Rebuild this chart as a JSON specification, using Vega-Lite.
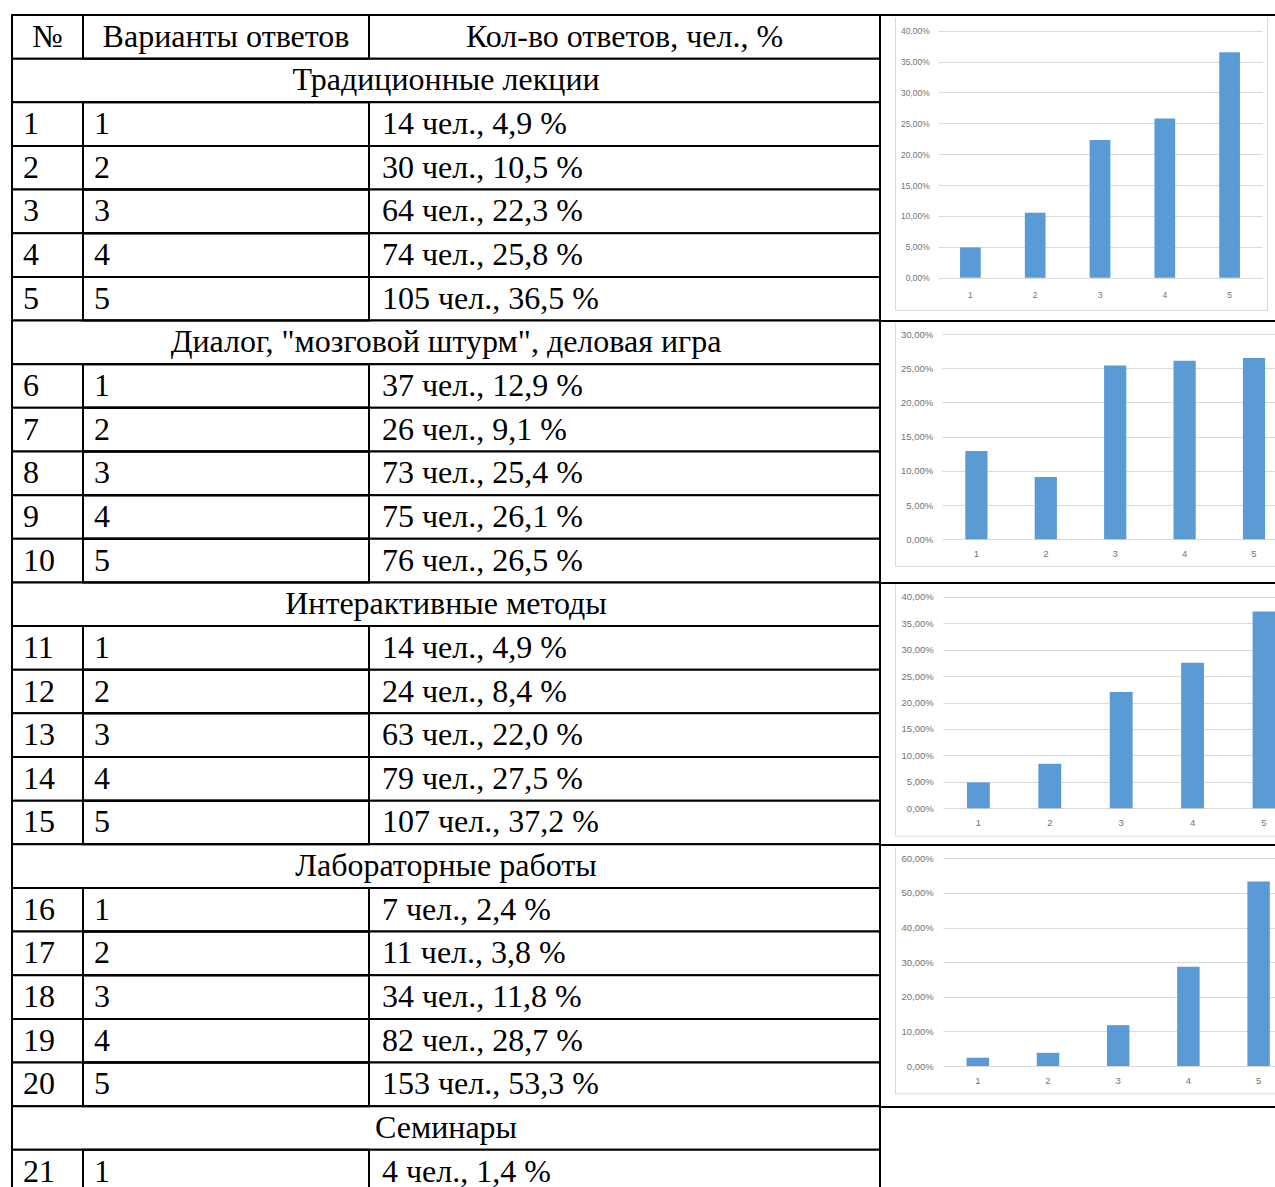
{
  "$schema": "https://vega.github.io/schema/vega-lite/v6.json",
  "background": "white",
  "padding": {"left": 10, "top": 13, "right": 0, "bottom": 0},
  "bounds": "flush",
  "spacing": 0,
  "datasets": {
    "header": [
      {"r": 0, "c": 0.5, "t": "№"},
      {"r": 0, "c": 1.5, "t": "Варианты ответов"},
      {"r": 0, "c": 2.5, "t": "Кол-во ответов, чел., %"}
    ],
    "table": [
      {"r": 0, "k": "h"},
      {"r": 1, "k": "g", "t": "Традиционные лекции"},
      {"r": 2, "k": "i", "no": "1", "opt": "1", "cnt": "14 чел., 4,9 %"},
      {"r": 3, "k": "i", "no": "2", "opt": "2", "cnt": "30 чел., 10,5 %"},
      {"r": 4, "k": "i", "no": "3", "opt": "3", "cnt": "64 чел., 22,3 %"},
      {"r": 5, "k": "i", "no": "4", "opt": "4", "cnt": "74 чел., 25,8 %"},
      {"r": 6, "k": "i", "no": "5", "opt": "5", "cnt": "105 чел., 36,5 %"},
      {"r": 7, "k": "g", "t": "Диалог, \"мозговой штурм\", деловая игра"},
      {"r": 8, "k": "i", "no": "6", "opt": "1", "cnt": "37 чел., 12,9 %"},
      {"r": 9, "k": "i", "no": "7", "opt": "2", "cnt": "26 чел., 9,1 %"},
      {"r": 10, "k": "i", "no": "8", "opt": "3", "cnt": "73 чел., 25,4 %"},
      {"r": 11, "k": "i", "no": "9", "opt": "4", "cnt": "75 чел., 26,1 %"},
      {"r": 12, "k": "i", "no": "10", "opt": "5", "cnt": "76 чел., 26,5 %"},
      {"r": 13, "k": "g", "t": "Интерактивные методы"},
      {"r": 14, "k": "i", "no": "11", "opt": "1", "cnt": "14 чел., 4,9 %"},
      {"r": 15, "k": "i", "no": "12", "opt": "2", "cnt": "24 чел., 8,4 %"},
      {"r": 16, "k": "i", "no": "13", "opt": "3", "cnt": "63 чел., 22,0 %"},
      {"r": 17, "k": "i", "no": "14", "opt": "4", "cnt": "79 чел., 27,5 %"},
      {"r": 18, "k": "i", "no": "15", "opt": "5", "cnt": "107 чел., 37,2 %"},
      {"r": 19, "k": "g", "t": "Лабораторные работы"},
      {"r": 20, "k": "i", "no": "16", "opt": "1", "cnt": "7 чел., 2,4 %"},
      {"r": 21, "k": "i", "no": "17", "opt": "2", "cnt": "11 чел., 3,8 %"},
      {"r": 22, "k": "i", "no": "18", "opt": "3", "cnt": "34 чел., 11,8 %"},
      {"r": 23, "k": "i", "no": "19", "opt": "4", "cnt": "82 чел., 28,7 %"},
      {"r": 24, "k": "i", "no": "20", "opt": "5", "cnt": "153 чел., 53,3 %"},
      {"r": 25, "k": "g", "t": "Семинары"},
      {"r": 26, "k": "i", "no": "21", "opt": "1", "cnt": "4 чел., 1,4 %"}
    ],
    "bars": [
      {"chart": 1, "option": "1", "share": 0.049},
      {"chart": 1, "option": "2", "share": 0.105},
      {"chart": 1, "option": "3", "share": 0.223},
      {"chart": 1, "option": "4", "share": 0.258},
      {"chart": 1, "option": "5", "share": 0.365},
      {"chart": 2, "option": "1", "share": 0.129},
      {"chart": 2, "option": "2", "share": 0.091},
      {"chart": 2, "option": "3", "share": 0.254},
      {"chart": 2, "option": "4", "share": 0.261},
      {"chart": 2, "option": "5", "share": 0.265},
      {"chart": 3, "option": "1", "share": 0.049},
      {"chart": 3, "option": "2", "share": 0.084},
      {"chart": 3, "option": "3", "share": 0.220},
      {"chart": 3, "option": "4", "share": 0.275},
      {"chart": 3, "option": "5", "share": 0.372},
      {"chart": 4, "option": "1", "share": 0.024},
      {"chart": 4, "option": "2", "share": 0.038},
      {"chart": 4, "option": "3", "share": 0.118},
      {"chart": 4, "option": "4", "share": 0.287},
      {"chart": 4, "option": "5", "share": 0.533}
    ]
  },
  "hconcat": [
    {
      "width": 868,
      "height": 1178.5,
      "encoding": {
        "y": {"field": "r", "type": "ordinal", "axis": null, "scale": {"paddingInner": 0, "paddingOuter": 0}}
      },
      "layer": [
        {
          "data": {"name": "table"},
          "mark": {"type": "rect", "fill": "white", "stroke": "black", "strokeWidth": 2},
          "encoding": {}
        },
        {
          "data": {"name": "table"},
          "transform": [{"filter": "datum.k != 'g'"}],
          "mark": {"type": "rect", "fillOpacity": 0, "stroke": "black", "strokeWidth": 2},
          "encoding": {
            "x": {"datum": 1, "type": "quantitative", "axis": null, "scale": {"domain": [0, 1, 2, 3], "range": [0, 71, 357, 868], "nice": false, "zero": false}},
            "x2": {"datum": 2}
          }
        },
        {
          "data": {"name": "header"},
          "mark": {"type": "text", "align": "center", "baseline": "middle", "font": "Liberation Serif", "fontSize": 32, "color": "black"},
          "encoding": {
            "x": {"field": "c", "type": "quantitative", "axis": null, "scale": {"domain": [0, 1, 2, 3], "range": [0, 71, 357, 868], "nice": false, "zero": false}},
            "text": {"field": "t"}
          }
        },
        {
          "data": {"name": "table"},
          "transform": [{"filter": "datum.k == 'i'"}],
          "mark": {"type": "text", "align": "left", "baseline": "middle", "font": "Liberation Serif", "fontSize": 32, "color": "black", "dx": 11},
          "encoding": {
            "x": {"datum": 0, "type": "quantitative", "axis": null, "scale": {"domain": [0, 1, 2, 3], "range": [0, 71, 357, 868], "nice": false, "zero": false}},
            "text": {"field": "no"}
          }
        },
        {
          "data": {"name": "table"},
          "transform": [{"filter": "datum.k == 'i'"}],
          "mark": {"type": "text", "align": "left", "baseline": "middle", "font": "Liberation Serif", "fontSize": 32, "color": "black", "dx": 11},
          "encoding": {
            "x": {"datum": 1, "type": "quantitative", "axis": null, "scale": {"domain": [0, 1, 2, 3], "range": [0, 71, 357, 868], "nice": false, "zero": false}},
            "text": {"field": "opt"}
          }
        },
        {
          "data": {"name": "table"},
          "transform": [{"filter": "datum.k == 'i'"}],
          "mark": {"type": "text", "align": "left", "baseline": "middle", "font": "Liberation Serif", "fontSize": 32, "color": "black", "dx": 13},
          "encoding": {
            "x": {"datum": 2, "type": "quantitative", "axis": null, "scale": {"domain": [0, 1, 2, 3], "range": [0, 71, 357, 868], "nice": false, "zero": false}},
            "text": {"field": "cnt"}
          }
        },
        {
          "data": {"name": "table"},
          "transform": [{"filter": "datum.k == 'g'"}],
          "mark": {"type": "text", "align": "center", "baseline": "middle", "font": "Liberation Serif", "fontSize": 32, "color": "black"},
          "encoding": {
            "text": {"field": "t"}
          }
        }
      ]
    },
    {
      "spacing": 0,
      "bounds": "flush",
      "vconcat": [
        {
          "width": 420,
          "height": 306,
          "data": {"name": "bars"},
          "transform": [{"filter": "datum.chart == 1"}],
          "resolve": {"scale": {"x": "independent", "y": "independent"}, "axis": {"x": "independent", "y": "independent"}},
          "layer": [
            {
              "mark": {"type": "bar", "color": "#5b9bd5"},
              "encoding": {
                "x": {"field": "option", "type": "ordinal", "scale": {"range": [58, 382], "paddingInner": 0.68, "paddingOuter": 0.34},
                  "axis": {"title": null, "orient": "bottom", "offset": -26.7, "labelAngle": 0, "domain": false, "ticks": false, "labelPadding": 0, "labelBaseline": "middle", "labelFontSize": 8.5, "grid": false}},
                "y": {"field": "share", "type": "quantitative", "scale": {"domain": [0, 0.4], "range": [262.7, 15.7], "nice": false},
                  "axis": {"title": null, "orient": "left", "values": [0, 0.05, 0.1, 0.15, 0.2, 0.25, 0.3, 0.35, 0.4], "format": ".2%", "offset": -49.3, "domain": false, "ticks": false, "labelPadding": 0, "labelFontSize": 8.5, "grid": true}}
              }
            },
            {
              "mark": {"type": "bar", "opacity": 0},
              "encoding": {
                "x": {"field": "option", "type": "ordinal", "scale": {"range": [15, 387]},
                  "axis": {"title": null, "orient": "bottom", "offset": -11, "labels": false, "ticks": false, "grid": false, "domain": true, "domainColor": "#d9d9d9"}},
                "y": {"field": "share", "type": "quantitative", "scale": {"range": [295, 2]},
                  "axis": {"title": null, "orient": "left", "offset": -15, "labels": false, "ticks": false, "grid": false, "domain": true, "domainColor": "#d9d9d9"}}
              }
            },
            {
              "mark": {"type": "bar", "opacity": 0},
              "encoding": {
                "x": {"field": "option", "type": "ordinal", "scale": {"range": [15, 387]}, "axis": null},
                "y": {"field": "share", "type": "quantitative", "scale": {"range": [295, 2]},
                  "axis": {"title": null, "orient": "right", "offset": -33, "labels": false, "ticks": false, "grid": false, "domain": true, "domainColor": "#d9d9d9"}}
              }
            }
          ]
        },
        {
          "width": 420,
          "height": 262,
          "data": {"name": "bars"},
          "transform": [{"filter": "datum.chart == 2"}],
          "resolve": {"scale": {"x": "independent", "y": "independent"}, "axis": {"x": "independent", "y": "independent"}},
          "layer": [
            {
              "mark": {"type": "bar", "color": "#5b9bd5"},
              "encoding": {
                "x": {"field": "option", "type": "ordinal", "scale": {"range": [61.7, 408.7], "paddingInner": 0.68, "paddingOuter": 0.34},
                  "axis": {"title": null, "orient": "bottom", "offset": -29.7, "labelAngle": 0, "domain": false, "ticks": false, "labelPadding": 0, "labelBaseline": "middle", "labelFontSize": 9.5, "grid": false}},
                "y": {"field": "share", "type": "quantitative", "scale": {"domain": [0, 0.3], "range": [218.3, 13], "nice": false},
                  "axis": {"title": null, "orient": "left", "values": [0, 0.05, 0.1, 0.15, 0.2, 0.25, 0.3], "format": ".2%", "offset": -52.7, "domain": false, "ticks": false, "labelPadding": 0, "labelFontSize": 9.5, "grid": true}}
              }
            },
            {
              "mark": {"type": "bar", "opacity": 0},
              "encoding": {
                "x": {"field": "option", "type": "ordinal", "scale": {"range": [15, 440]},
                  "axis": {"title": null, "orient": "bottom", "offset": -17, "labels": false, "ticks": false, "grid": false, "domain": true, "domainColor": "#d9d9d9"}},
                "y": {"field": "share", "type": "quantitative", "scale": {"range": [245, 1]},
                  "axis": {"title": null, "orient": "left", "offset": -15, "labels": false, "ticks": false, "grid": false, "domain": true, "domainColor": "#d9d9d9"}}
              }
            }
          ]
        },
        {
          "width": 420,
          "height": 262,
          "data": {"name": "bars"},
          "transform": [{"filter": "datum.chart == 3"}],
          "resolve": {"scale": {"x": "independent", "y": "independent"}, "axis": {"x": "independent", "y": "independent"}},
          "layer": [
            {
              "mark": {"type": "bar", "color": "#5b9bd5"},
              "encoding": {
                "x": {"field": "option", "type": "ordinal", "scale": {"range": [62.7, 419.7], "paddingInner": 0.68, "paddingOuter": 0.34},
                  "axis": {"title": null, "orient": "bottom", "offset": -22.7, "labelAngle": 0, "domain": false, "ticks": false, "labelPadding": 0, "labelBaseline": "middle", "labelFontSize": 9.5, "grid": false}},
                "y": {"field": "share", "type": "quantitative", "scale": {"domain": [0, 0.4], "range": [225.3, 13.7], "nice": false},
                  "axis": {"title": null, "orient": "left", "values": [0, 0.05, 0.1, 0.15, 0.2, 0.25, 0.3, 0.35, 0.4], "format": ".2%", "offset": -53.3, "domain": false, "ticks": false, "labelPadding": 0, "labelFontSize": 9.5, "grid": true}}
              }
            },
            {
              "mark": {"type": "bar", "opacity": 0},
              "encoding": {
                "x": {"field": "option", "type": "ordinal", "scale": {"range": [15, 440]},
                  "axis": {"title": null, "orient": "bottom", "offset": -9.3, "labels": false, "ticks": false, "grid": false, "domain": true, "domainColor": "#d9d9d9"}},
                "y": {"field": "share", "type": "quantitative", "scale": {"range": [252.7, 1]},
                  "axis": {"title": null, "orient": "left", "offset": -15, "labels": false, "ticks": false, "grid": false, "domain": true, "domainColor": "#d9d9d9"}}
              }
            }
          ]
        },
        {
          "width": 420,
          "height": 262,
          "data": {"name": "bars"},
          "transform": [{"filter": "datum.chart == 4"}],
          "resolve": {"scale": {"x": "independent", "y": "independent"}, "axis": {"x": "independent", "y": "independent"}},
          "layer": [
            {
              "mark": {"type": "bar", "color": "#5b9bd5"},
              "encoding": {
                "x": {"field": "option", "type": "ordinal", "scale": {"range": [62.7, 413.7], "paddingInner": 0.68, "paddingOuter": 0.34},
                  "axis": {"title": null, "orient": "bottom", "offset": -27, "labelAngle": 0, "domain": false, "ticks": false, "labelPadding": 0, "labelBaseline": "middle", "labelFontSize": 9.5, "grid": false}},
                "y": {"field": "share", "type": "quantitative", "scale": {"domain": [0, 0.6], "range": [221, 13.3], "nice": false},
                  "axis": {"title": null, "orient": "left", "values": [0, 0.1, 0.2, 0.3, 0.4, 0.5, 0.6], "format": ".2%", "offset": -53.3, "domain": false, "ticks": false, "labelPadding": 0, "labelFontSize": 9.5, "grid": true}}
              }
            },
            {
              "mark": {"type": "bar", "opacity": 0},
              "encoding": {
                "x": {"field": "option", "type": "ordinal", "scale": {"range": [15, 440]},
                  "axis": {"title": null, "orient": "bottom", "offset": -13.7, "labels": false, "ticks": false, "grid": false, "domain": true, "domainColor": "#d9d9d9"}},
                "y": {"field": "share", "type": "quantitative", "scale": {"range": [248.3, 1.7]},
                  "axis": {"title": null, "orient": "left", "offset": -15, "labels": false, "ticks": false, "grid": false, "domain": true, "domainColor": "#d9d9d9"}}
              }
            }
          ]
        }
      ]
    }
  ],
  "config": {
    "view": {"stroke": "black", "strokeWidth": 2},
    "locale": {"number": {"decimal": ",", "thousands": " ", "grouping": [3], "currency": ["", ""]}},
    "axis": {"labelColor": "#737373", "labelFont": "Liberation Sans", "gridColor": "#d9d9d9", "gridWidth": 1}
  }
}
